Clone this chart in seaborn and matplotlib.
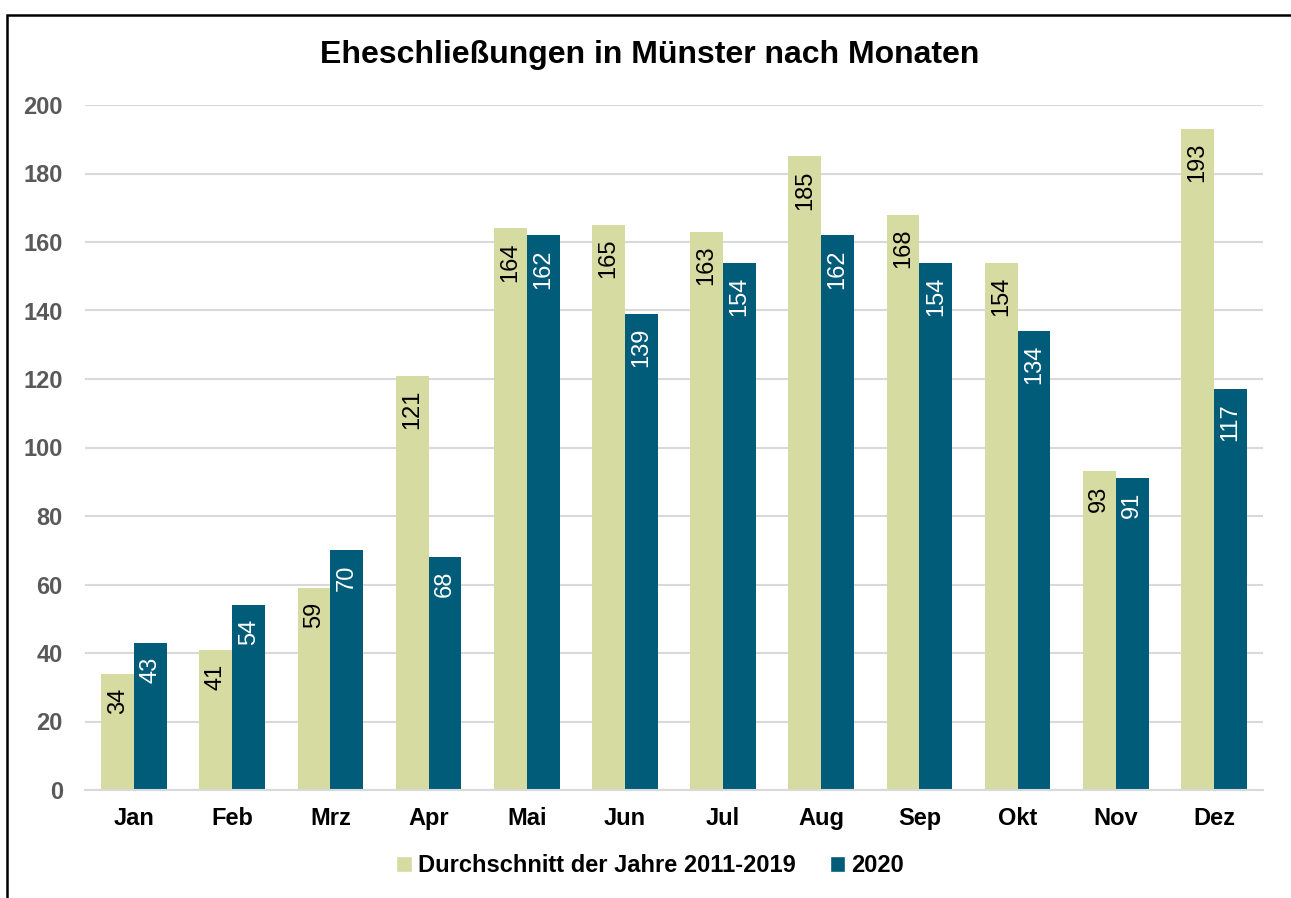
import pandas as pd
import matplotlib.pyplot as plt
import matplotlib.patches as mpatches
import seaborn as sns

# Monthly marriages in Münster
months = ["Jan", "Feb", "Mrz", "Apr", "Mai", "Jun", "Jul", "Aug", "Sep", "Okt", "Nov", "Dez"]
avg_2011_2019 = [34, 41, 59, 121, 164, 165, 163, 185, 168, 154, 93, 193]
year_2020 = [43, 54, 70, 68, 162, 139, 154, 162, 154, 134, 91, 117]
series_names = ["Durchschnitt der Jahre 2011-2019", "2020"]
y_ticks = [0, 20, 40, 60, 80, 100, 120, 140, 160, 180, 200]

df = pd.DataFrame({
    "Monat": months * 2,
    "Anzahl": avg_2011_2019 + year_2020,
    "Reihe": [series_names[0]] * 12 + [series_names[1]] * 12,
})

sns.set_style("white")
plt.rcParams['font.family'] = ['Liberation Sans', 'DejaVu Sans']
plt.rcParams['text.color'] = 'black'

colors = ["#d5dba1", "#005c78"]
label_colors = ["black", "white"]

fig = plt.figure(figsize=(12.91, 8.98), dpi=100)
ax = fig.add_axes([85 / 1291, 1 - 790 / 898, (1263 - 85) / 1291, (790 - 105) / 898])

sns.barplot(data=df, x="Monat", y="Anzahl", hue="Reihe", palette=colors,
            width=0.67, saturation=1, linewidth=0, ax=ax, legend=False)

for container, lc in zip(ax.containers, label_colors):
    for bar in container:
        h = bar.get_height()
        ax.annotate(f"{h:.0f}", (bar.get_x() + bar.get_width() / 2, h),
                    xytext=(0, -10), textcoords="offset points",
                    rotation=90, ha="center", va="top", color=lc, fontsize=17)

ax.set_ylim(0, 200)
ax.set_yticks(y_ticks)
ax.set_xlim(-0.5, 11.5)
ax.yaxis.grid(True, color="#d9d9d9", linewidth=1.5)
ax.set_axisbelow(True)
for s in ["top", "right", "left"]:
    ax.spines[s].set_visible(False)
ax.spines["bottom"].set_color("#d9d9d9")
ax.spines["bottom"].set_linewidth(1.5)
ax.tick_params(axis="both", length=0)
ax.tick_params(axis="y", pad=16, labelcolor="#595959")
ax.tick_params(axis="x", pad=12, labelcolor="black")
for t in ax.get_yticklabels():
    t.set_fontsize(17)
    t.set_fontweight("bold")
for t in ax.get_xticklabels():
    t.set_fontsize(17)
    t.set_fontweight("bold")
ax.set_xlabel("")
ax.set_ylabel("")

fig.text(650 / 1291, 1 - 55 / 898, "Eheschließungen in Münster nach Monaten",
         ha="center", va="center", fontsize=23, fontweight="bold", color="black")

handles = [mpatches.Patch(facecolor=c, label=n) for c, n in zip(colors, series_names)]
leg = fig.legend(handles=handles, loc="center", bbox_to_anchor=(650 / 1291, 1 - 866 / 898),
                 ncol=2, frameon=False, handlelength=0.65, handleheight=0.65,
                 handletextpad=0.25, columnspacing=1.45, prop={"size": 17, "weight": "bold"})

# outer chart border (runs off the right and bottom edges)
border = mpatches.Rectangle((7 / 1291, -0.1), 1.2, 1 - 15 / 898 + 0.1,
                            transform=fig.transFigure, fill=False,
                            edgecolor="black", linewidth=1.8, clip_on=False)
fig.patches.append(border)

fig.savefig("out.png", dpi=100)
